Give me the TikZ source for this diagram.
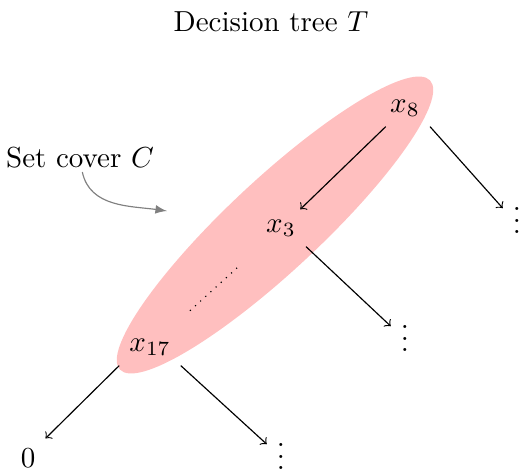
\documentclass[tikz,border=0pt]{standalone}
\begin{document}
\begin{tikzpicture}[x=0.345pt,y=-0.345pt,
  edgearrow/.style={->},
  coverfill/.style={fill=red!25},
  pointer/.style={gray,-latex}]
\useasboundingbox (0,0) rectangle (519,469);
\coordinate (c) at (275,225);
\fill[coverfill, rotate around={43:(c)}] (c) ellipse [x radius=212, y radius=46];
\node (title) at (271,22) {Decision tree $T$};
\node[inner sep=1pt] (setc) at (80,158) {Set cover $C$};
\node (x8) at (405,108) {$x_8$};
\node (x3) at (281,228) {$x_3$};
\node (x17) at (150,347) {$x_{17}$};
\node (zero) at (28,458) {$0$};
\node (d1) at (517,212) {$\vdots$};
\node (d2) at (405,330) {$\vdots$};
\node (d3) at (281,448) {$\vdots$};
\coordinate (tip) at (167,211);
\draw[edgearrow] (x8) -- (x3);
\draw[edgearrow] (x8.south east) -- (d1.165);
\draw[edgearrow] (x3.south east) -- (d2.165);
\draw[edgearrow] (x17.south west) -- (zero.north east);
\draw[edgearrow] (x17.south east) -- (d3.165);
\draw[dotted, shorten <=18.6pt, shorten >=19.3pt] (x17.center) -- (x3.center);
\draw[pointer] ([xshift=0.8pt]setc.south) to[out=-78, in=172] (tip);
\end{tikzpicture}
\end{document}
